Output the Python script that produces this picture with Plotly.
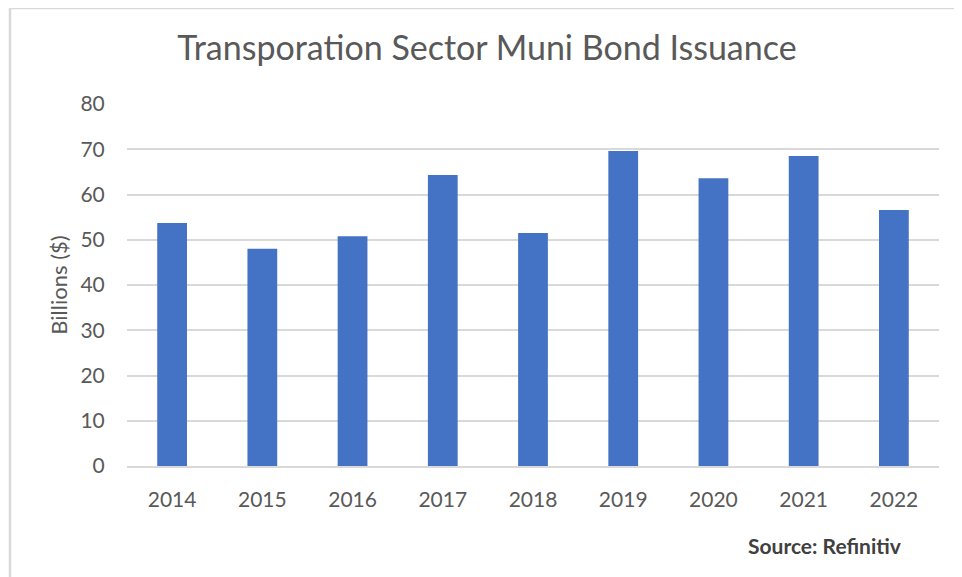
import plotly.graph_objects as go

years = ["2014", "2015", "2016", "2017", "2018", "2019", "2020", "2021", "2022"]
issuance = [53.7, 48.0, 50.8, 64.3, 51.5, 69.6, 63.6, 68.5, 56.6]
y_ticks = [0, 10, 20, 30, 40, 50, 60, 70, 80]

# page has an 8px body margin; work in page pixels and convert
OFF = 8
PAGE_W, PAGE_H = 962, 577
W, H = PAGE_W - OFF, PAGE_H - OFF
PL, PR, PT, PB = 127, 939, 104, 466  # plot area in page pixels
L, R, T, B = PL - OFF, PAGE_W - PR, PT - OFF, PAGE_H - PB
pw, ph = PR - PL, PB - PT

def px_x(x):
    return (x - PL) / pw

def px_y(y):
    return (PB - y) / ph

FONT = "Lato"
GRAY = "#595959"

fig = go.Figure(
    go.Bar(x=years, y=issuance, marker=dict(color="#4472C4", line=dict(width=0)), width=0.33)
)

fig.update_layout(
    width=W, height=H,
    margin=dict(l=L, r=R, t=T, b=B),
    paper_bgcolor="white", plot_bgcolor="white",
    font=dict(family=FONT, color=GRAY),
    showlegend=False,
    title=dict(
        text="Transporation Sector Muni Bond Issuance",
        x=(487 - OFF) / W, xanchor="center", xref="container",
        y=1 - (48 - OFF) / H, yanchor="middle", yref="container",
        font=dict(family=FONT, size=34, color=GRAY),
    ),
    xaxis=dict(
        showgrid=False, showline=True, linecolor="#D9D9D9", linewidth=1.5,
        tickfont=dict(size=21, color=GRAY),
        ticks="outside", ticklen=14, tickcolor="rgba(0,0,0,0)",
        fixedrange=True,
    ),
    yaxis=dict(
        range=[0, 80], tickvals=y_ticks,
        showgrid=True, gridcolor="#D9D9D9", gridwidth=1.5,
        zeroline=False, showline=False,
        tickfont=dict(size=21, color=GRAY),
        ticks="outside", ticklen=17, tickcolor="rgba(0,0,0,0)",
        title=dict(text="Billions ($)", font=dict(size=22, color=GRAY), standoff=6),
    ),
    annotations=[
        dict(
            text="<b>Source: Refinitiv</b>", xref="paper", yref="paper",
            x=px_x(903), y=px_y(545), xanchor="right", yanchor="middle",
            showarrow=False, font=dict(family=FONT, size=21, color="#404040"),
        )
    ],
    shapes=[
        dict(type="line", xref="paper", yref="paper",
             x0=px_x(10), x1=px_x(980), y0=px_y(8), y1=px_y(8),
             line=dict(color="#D9D9D9", width=2.5)),
        dict(type="line", xref="paper", yref="paper",
             x0=px_x(10), x1=px_x(10), y0=px_y(8), y1=px_y(600),
             line=dict(color="#D9D9D9", width=2.5)),
    ],
)

fig.write_html("out.html")
